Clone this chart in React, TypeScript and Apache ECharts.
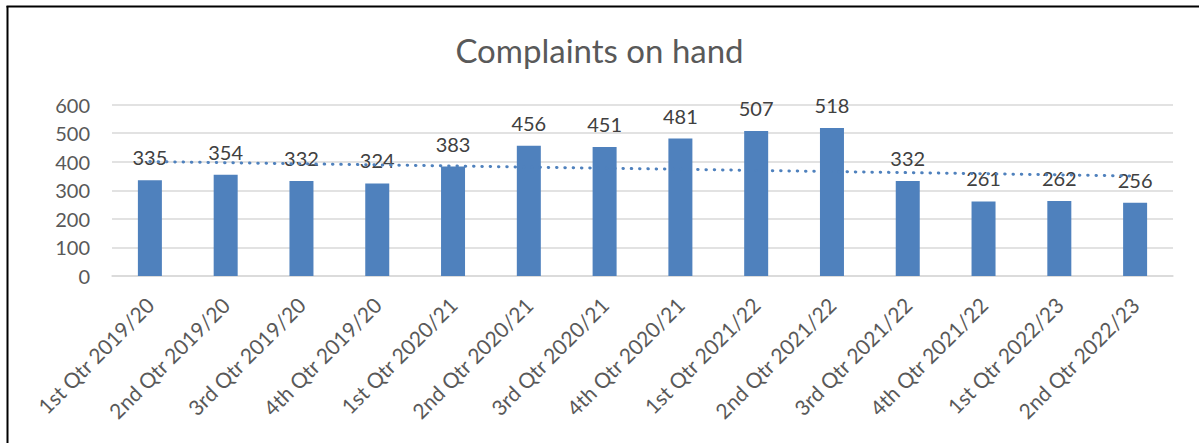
import React, { useEffect, useRef } from "react";
import * as echarts from "echarts";

const categories = [
  "1st Qtr 2019/20",
  "2nd Qtr 2019/20",
  "3rd Qtr 2019/20",
  "4th Qtr 2019/20",
  "1st Qtr 2020/21",
  "2nd Qtr 2020/21",
  "3rd Qtr 2020/21",
  "4th Qtr 2020/21",
  "1st Qtr 2021/22",
  "2nd Qtr 2021/22",
  "3rd Qtr 2021/22",
  "4th Qtr 2021/22",
  "1st Qtr 2022/23",
  "2nd Qtr 2022/23",
];

const complaints = [335, 354, 332, 324, 383, 456, 451, 481, 507, 518, 332, 261, 262, 256];

const yTicks = { min: 0, max: 600, interval: 100 };

// Linear trendline (least squares), as Excel's linear trendline
function linearTrend(values: number[]): number[] {
  const n = values.length;
  const xs = values.map((_, i) => i + 1);
  const mx = xs.reduce((a, b) => a + b, 0) / n;
  const my = values.reduce((a, b) => a + b, 0) / n;
  let sxy = 0;
  let sxx = 0;
  for (let i = 0; i < n; i++) {
    sxy += (xs[i] - mx) * (values[i] - my);
    sxx += (xs[i] - mx) * (xs[i] - mx);
  }
  const slope = sxy / sxx;
  return xs.map((x) => my + slope * (x - mx));
}

const FONT = "Lato";

export default function App() {
  const ref = useRef<HTMLDivElement>(null);
  useEffect(() => {
    if (!ref.current) return;
    const chart = echarts.init(ref.current, undefined, { renderer: "svg" });
    const trend = linearTrend(complaints);
    chart.setOption({
      animation: false,
      backgroundColor: "#ffffff",
      textStyle: { fontFamily: FONT },
      title: {
        text: "Complaints on hand",
        left: "center",
        top: 28,
        textStyle: {
          fontFamily: FONT,
          fontSize: 33,
          fontWeight: "normal",
          color: "#595959",
        },
      },
      graphic: [
        {
          type: "line",
          shape: { x1: 7.5, y1: 6, x2: 7.5, y2: 443 },
          style: { stroke: "#000000", lineWidth: 2 },
        },
        {
          type: "line",
          shape: { x1: 6.5, y1: 6.5, x2: 1199, y2: 6.5 },
          style: { stroke: "#000000", lineWidth: 2 },
        },
      ],
      grid: { left: 112, right: 26, top: 104.5, bottom: 167, containLabel: false },
      xAxis: {
        type: "category",
        data: categories,
        axisTick: { show: false },
        axisLine: { lineStyle: { color: "#d9d9d9", width: 1.5 } },
        axisLabel: {
          rotate: 45,
          interval: 0,
          margin: 25,
          fontFamily: FONT,
          fontSize: 21,
          color: "#595959",
        },
      },
      yAxis: {
        type: "value",
        min: yTicks.min,
        max: yTicks.max,
        interval: yTicks.interval,
        axisLine: { show: false },
        axisTick: { show: false },
        axisLabel: {
          margin: 22,
          fontFamily: FONT,
          fontSize: 20,
          color: "#595959",
        },
        splitLine: { lineStyle: { color: "#d9d9d9", width: 1.5 } },
      },
      series: [
        {
          type: "bar",
          data: complaints,
          barWidth: 24,
          itemStyle: { color: "#4f81bd" },
          label: {
            show: true,
            position: "top",
            distance: 13,
            fontFamily: FONT,
            fontSize: 20,
            color: "#404040",
          },
          z: 2,
        },
        {
          type: "line",
          data: trend,
          symbol: "none",
          silent: true,
          lineStyle: {
            color: "#4f81bd",
            width: 3,
            type: [0.5, 7.8],
            cap: "round",
          },
          z: 3,
        },
      ],
    });
    return () => chart.dispose();
  }, []);
  return (
    <div
      ref={ref}
      style={{ position: "fixed", left: 0, top: 0, width: 1199, height: 443 }}
    />
  );
}
